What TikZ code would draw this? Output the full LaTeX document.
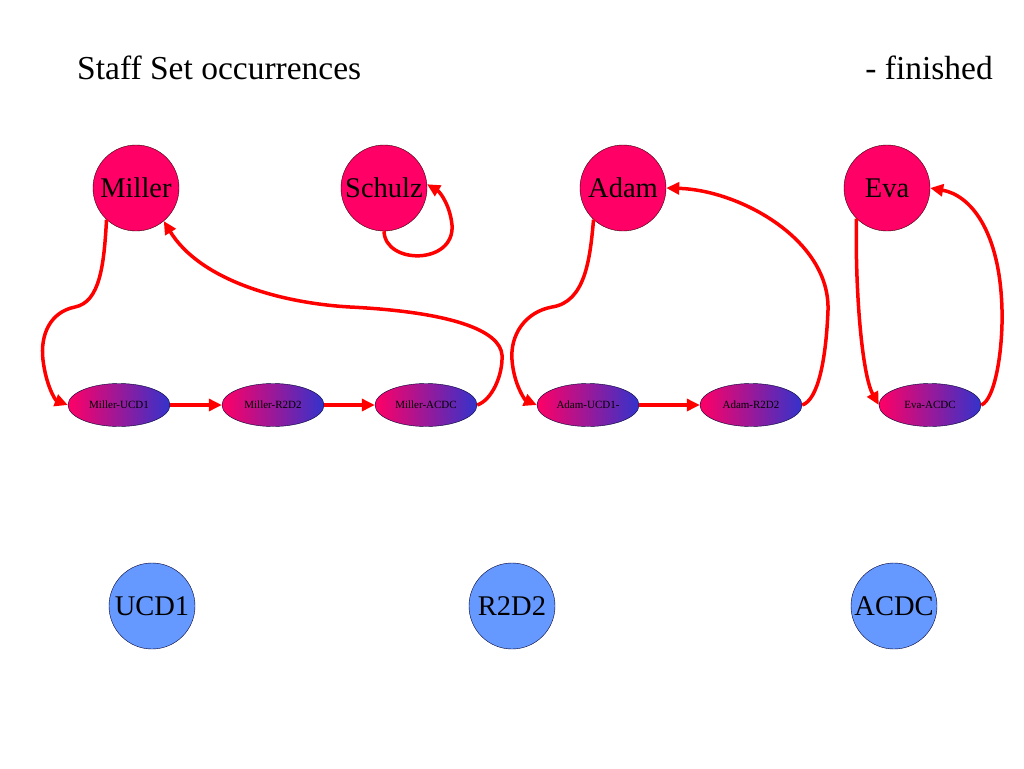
\documentclass[tikz,border=0pt]{standalone}
\usepackage{fontspec}
\setmainfont{Liberation Serif}
\usetikzlibrary{shapes.geometric,arrows.meta}
\definecolor{pinkred}{RGB}{255,0,102}
\definecolor{gradblue}{RGB}{51,51,204}
\definecolor{lightblue}{RGB}{102,153,255}
\definecolor{edgered}{RGB}{255,0,0}
\tikzset{
  staff/.style={circle,draw=black!80!red,thin,fill=pinkred,minimum size=86pt,inner sep=0pt,font=\fontsize{28.5}{32}\selectfont},
  project/.style={circle,draw=black!80!blue,thin,fill=lightblue,minimum size=86pt,inner sep=0pt,font=\fontsize{28.5}{32}\selectfont},
  occ/.style={ellipse,draw=black!80!blue,thin,left color=pinkred,right color=gradblue,minimum width=102pt,minimum height=43pt,inner sep=0pt,font=\fontsize{11}{13}\selectfont},
  link/.style={draw=edgered,line width=3.5pt,-{Triangle[length=13pt,width=12pt]}},
  titletext/.style={inner sep=0pt,font=\fontsize{33.5}{38}\selectfont}
}
\begin{document}
\begin{tikzpicture}[x=1pt,y=-1pt]
\useasboundingbox (0,0) rectangle (1024,768);
\node[titletext,anchor=base west] (title) at (77,79) {Staff Set occurrences};
\node[titletext,anchor=base east] (fin) at (993,79) {- finished};

\node[staff] (miller) at (136,188) {Miller};
\node[staff] (schulz) at (384,188) {Schulz};
\node[staff] (adam) at (623,188) {Adam};
\node[staff] (eva) at (887,188) {Eva};

\node[occ] (mucd) at (119,405) {Miller-UCD1};
\node[occ] (mr2) at (273,405) {Miller-R2D2};
\node[occ] (mac) at (426,405) {Miller-ACDC};
\node[occ] (aucd) at (588,405) {Adam-UCD1-};
\node[occ] (ar2) at (751,405) {Adam-R2D2};
\node[occ] (eac) at (930,405) {Eva-ACDC};

\node[project] (ucd) at (152,606) {UCD1};
\node[project] (r2) at (512,606) {R2D2};
\node[project] (acdc) at (894,606) {ACDC};

% Miller chain
\draw[link] (miller.227) .. controls (104,265) and (100,302) .. (75,307)
  .. controls (50,312) and (40,335) .. (43,360)
  .. controls (46,385) and (55,400) .. (mucd.west);
\draw[link] (mucd) -- (mr2);
\draw[link] (mr2) -- (mac);
\draw[link] (mac.east) .. controls (492,400) and (503,375) .. (502,355)
  .. controls (500,330) and (450,312) .. (350,307)
  .. controls (280,303) and (200,280) .. (miller.-50);

% Schulz loop
\draw[link] (schulz.270) .. controls (385,265) and (455,265) .. (452,225)
  .. controls (450,205) and (440,192) .. (schulz.5);

% Adam chain
\draw[link] (adam.227) .. controls (590,260) and (585,302) .. (552,307)
  .. controls (525,312) and (510,335) .. (512,360)
  .. controls (514,385) and (525,400) .. (aucd.west);
\draw[link] (aucd) -- (ar2);
\draw[link] (ar2.east) .. controls (818,400) and (826,360) .. (828,310)
  .. controls (830,240) and (740,190) .. (adam.east);

% Eva chain
\draw[link] (eva.225) .. controls (855,290) and (862,375) .. (eac.west);
\draw[link] (eac.east) .. controls (995,400) and (1003,350) .. (1002,310)
  .. controls (1000,230) and (970,195) .. (eva.east);
\end{tikzpicture}
\end{document}
